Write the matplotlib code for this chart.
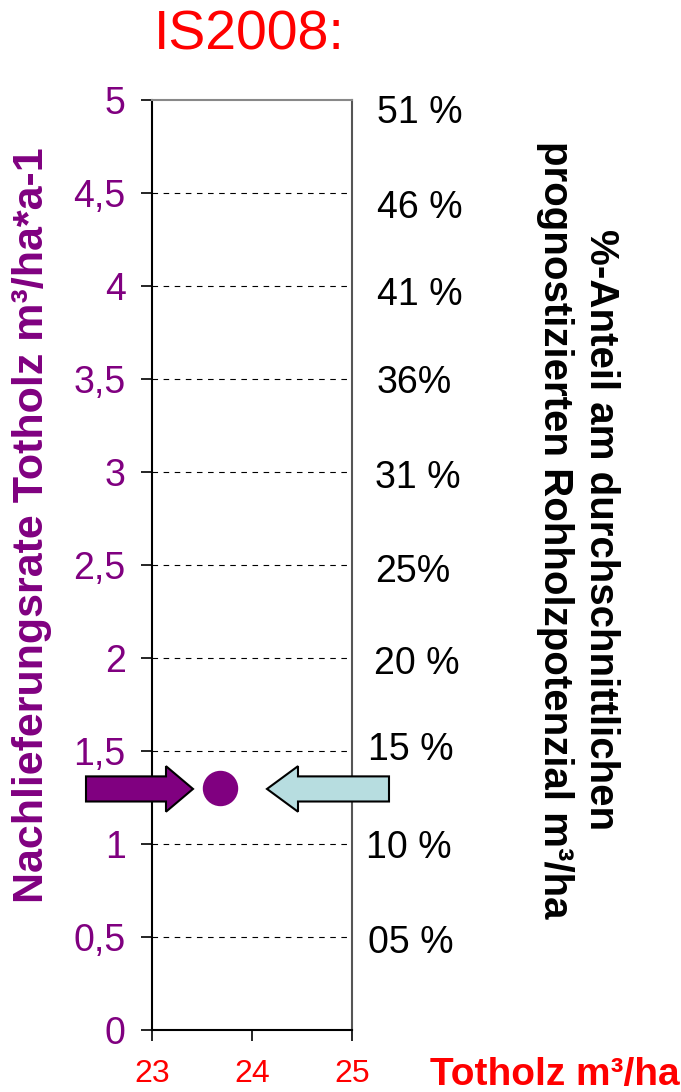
import matplotlib
matplotlib.use("Agg")
import matplotlib.pyplot as plt
from matplotlib.patches import FancyArrow

plt.rcParams['font.family'] = ['Liberation Sans', 'DejaVu Sans']

# data
point_x = [23.68]
point_y = [1.3]
x_ticks = [23, 24, 25]
y_ticks = [0, 0.5, 1, 1.5, 2, 2.5, 3, 3.5, 4, 4.5, 5]
y_ticklabels = ['0', '0,5', '1', '1,5', '2', '2,5', '3', '3,5', '4', '4,5', '5']
right_labels = ['51 %', '46 %', '41 %', '36%', '31 %', '25%', '20 %', '15 %', '10 %', '05 %']
right_label_y = [4.93, 4.42, 3.95, 3.48, 2.97, 2.46, 1.97, 1.505, 0.98, 0.47]
right_label_x = [25.25, 25.25, 25.25, 25.25, 25.23, 25.23, 25.22, 25.16, 25.14, 25.16]

purple = '#800080'
red = '#ff0000'

fig = plt.figure(figsize=(6.81, 10.92), dpi=100)
ax = fig.add_axes([152/681, 1-1030/1092, 200/681, 930/1092])
ax.set_xlim(23, 25)
ax.set_ylim(0, 5)

ax.set_xticks(x_ticks)
ax.set_xticklabels([str(t) for t in x_ticks], color=red, fontsize=23)
ax.set_yticks(y_ticks)
ax.set_yticklabels(y_ticklabels, color=purple, fontsize=27)
ax.tick_params(axis='x', direction='out', length=8, width=1.2, pad=13)
ax.tick_params(axis='y', direction='out', length=8, width=1.2, pad=11)

for y in y_ticks[1:-1]:
    ax.axhline(y, color='black', lw=0.8, ls=(0, (5, 5)), zorder=1)

ax.spines['left'].set_color('black')
ax.spines['bottom'].set_color('black')
ax.spines['right'].set_color('#555555')
ax.spines['top'].set_color('#888888')
for s in ax.spines.values():
    s.set_linewidth(1.5)

ax.scatter(point_x, point_y, s=600, color=purple, zorder=3)

# arrows
a1 = FancyArrow(22.34, 1.296, 1.07, 0, width=0.135, head_width=0.245,
                head_length=0.27, length_includes_head=True,
                facecolor=purple, edgecolor='black', lw=1.5, clip_on=False, zorder=4)
a2 = FancyArrow(25.37, 1.296, -1.22, 0, width=0.135, head_width=0.245,
                head_length=0.31, length_includes_head=True,
                facecolor='#b7dde0', edgecolor='black', lw=1.5, clip_on=False, zorder=4)
ax.add_patch(a1)
ax.add_patch(a2)

for lab, lx, ly in zip(right_labels, right_label_x, right_label_y):
    ax.text(lx, ly, lab, fontsize=27, color='black', ha='left', va='center', clip_on=False)

fig.text(249/681, 1-35/1092, 'IS2008:', color=red, fontsize=40, ha='center', va='center')
fig.text(555/681, 1-1075/1092, 'Totholz m³/ha', color=red, fontsize=28,
         fontweight='bold', ha='center', va='center')
fig.text(32/681, 1-525/1092, 'Nachlieferungsrate Totholz m³/ha*a-1', color=purple,
         fontsize=31, fontweight='bold', rotation=90, ha='center', va='center')
fig.text(578/681, 1-530/1092,
         '%-Anteil am durchschnittlichen\nprognostizierten Rohholzpotenzial m³/ha',
         color='black', fontsize=29, fontweight='bold', rotation=-90,
         ha='center', va='center', multialignment='center', linespacing=1.3)

fig.savefig('out.png', dpi=100)
